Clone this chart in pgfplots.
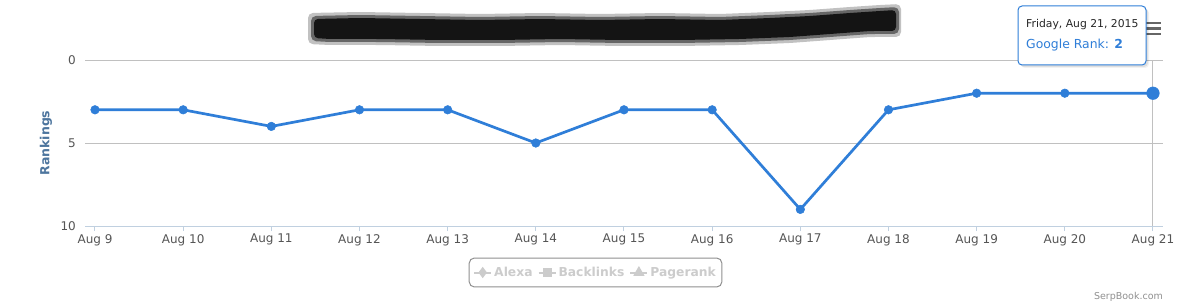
\documentclass[border=0pt]{standalone}
\usepackage{pgfplots}
\pgfplotsset{compat=1.18}
\usepackage{fontspec}
\setmainfont{DejaVu Sans}
\definecolor{linec}{HTML}{2F7ED8}
\definecolor{gridc}{HTML}{C0C0C0}
\definecolor{axisc}{HTML}{C0D0E0}
\definecolor{labc}{HTML}{555555}
\definecolor{menuc}{HTML}{666666}
\definecolor{titc}{HTML}{4D759E}
\definecolor{legc}{HTML}{CCCCCC}
\definecolor{legb}{HTML}{909090}
\begin{document}
\begin{tikzpicture}
\useasboundingbox (0,0) rectangle (1192pt,303pt);
\fill[white] (0,0) rectangle (1192pt,303pt);
\begin{scope}[x=1pt,y=-1pt,shift={(0pt,303pt)}]
  % obscured title
  \fill[black!30,opacity=0.8,rounded corners=5pt] (308,13) -- (360,12) -- (420,13) -- (480,14) -- (540,13) -- (600,14) -- (660,13) -- (720,14) -- (770,12) -- (810,10) -- (850,7) -- (880,5) -- (901,4)
     -- (901,37) -- (870,37) -- (830,40) -- (790,43) -- (740,45) -- (680,46) -- (620,46) -- (560,45) -- (500,46) -- (440,46) -- (380,45) -- (330,45) -- (308,44) -- cycle;
  \fill[black!60,rounded corners=5pt] (311,16) -- (360,15) -- (420,16) -- (480,17) -- (540,16) -- (600,17) -- (660,16) -- (720,17) -- (770,15) -- (810,13) -- (850,10) -- (880,8) -- (899,7)
     -- (899,34) -- (870,34) -- (830,37) -- (790,40) -- (740,42) -- (680,43) -- (620,43) -- (560,42) -- (500,43) -- (440,43) -- (380,42) -- (330,42) -- (311,41) -- cycle;
  \fill[black!92,rounded corners=4pt] (314,19) -- (360,18) -- (420,19) -- (480,20) -- (540,19) -- (600,20) -- (660,19) -- (720,20) -- (770,18) -- (810,16) -- (850,13) -- (880,11) -- (896,10)
     -- (896,31) -- (870,31) -- (830,34) -- (790,37) -- (740,39) -- (680,40) -- (620,40) -- (560,39) -- (500,40) -- (440,40) -- (380,39) -- (330,39) -- (314,38) -- cycle;
  % menu icon
  \draw[menuc,line width=2.5pt] (1146,23) -- (1161,23) (1146,28.5) -- (1161,28.5) (1146,34) -- (1161,34);
  % y label
  \node[rotate=90,inner sep=0pt,font=\bfseries\fontsize{12.5}{14}\selectfont,text=titc] at (46,143) {Rankings};
  % credit
  \node[anchor=east,inner sep=0pt,font=\fontsize{9.5}{11}\selectfont,text=legb] at (1163,297) {SerpBook.com};
\end{scope}
\begin{axis}[
  at={(85pt,77pt)}, anchor=south west, scale only axis,
  width=1078pt, height=166pt,
  xmin=-0.1134, xmax=12.1134, ymin=0, ymax=10, y dir=reverse,
  xtick={0,...,12},
  xticklabels={Aug 9,Aug 10,Aug 11,Aug 12,Aug 13,Aug 14,Aug 15,Aug 16,Aug 17,Aug 18,Aug 19,Aug 20,Aug 21},
  ytick={0,5,10},
  axis line style={draw=none},
  extra y ticks={10}, extra y tick labels={},
  extra y tick style={grid style={draw=axisc,line width=1pt}},
  xtick pos=lower, ytick pos=left,
  xtick style={draw=axisc,line width=1pt},
  ytick style={draw=none},
  tick align=outside, major tick length=5pt,
  ymajorgrids, grid style={draw=gridc,line width=1pt},
  ticklabel style={font=\fontsize{12}{14}\selectfont,text=labc},
  /pgf/number format/assume math mode=true,
  xticklabel style={inner sep=0pt,yshift=-3pt},
  yticklabel style={inner sep=0pt,xshift=-4pt},
  clip=false,
  legend columns=3,
  legend image code/.code={\draw[mark repeat=2,mark phase=2,#1] plot coordinates {(0pt,0pt)(8.5pt,0pt)(17pt,0pt)};},
  legend style={at={(0.4736,-0.2801)},anchor=center,draw=legb,rounded corners=5pt,line width=1pt,
    font=\bfseries\fontsize{12.3}{14}\selectfont,text=legc,inner xsep=4pt,inner ysep=7pt,
    /tikz/every even column/.append style={column sep=3pt}},
]
\addlegendimage{legc,line width=2pt,mark=diamond*,mark size=4pt}
\addlegendentry{Alexa}
\addlegendimage{legc,line width=2pt,mark=square*,mark size=3.5pt}
\addlegendentry{Backlinks}
\addlegendimage{legc,line width=2pt,mark=triangle*,mark size=4.5pt}
\addlegendentry{Pagerank}
\draw[gridc,line width=1pt] (axis cs:12,0) -- (axis cs:12,10);
\addplot[forget plot,color=linec,line width=2.7pt,mark=*,mark size=4.3pt,mark options={solid,fill=linec,draw=linec,line width=0.5pt}]
  coordinates {(0,3)(1,3)(2,4)(3,3)(4,3)(5,5)(6,3)(7,3)(8,9)(9,3)(10,2)(11,2)(12,2)};
\addplot[forget plot,only marks,mark=*,mark size=6.3pt,mark options={solid,fill=linec,draw=linec,line width=0.5pt}]
  coordinates {(12,2)};
\end{axis}
\begin{scope}[x=1pt,y=-1pt,shift={(0pt,303pt)}]
  % tooltip
  \fill[black,opacity=0.05,rounded corners=4pt] (1021,9) rectangle (1149,68);
  \fill[black,opacity=0.08,rounded corners=4pt] (1020,8) rectangle (1148,67);
  \draw[linec,fill=white,line width=1pt,rounded corners=4pt] (1018,6) rectangle (1146,65);
  \node[anchor=west,inner sep=0pt,font=\fontsize{10.8}{12}\selectfont,text=black!85] at (1026,25) {Friday, Aug 21, 2015};
  \node[anchor=west,inner sep=0pt,font=\fontsize{12.4}{14}\selectfont,text=linec] at (1026,45) {Google Rank: \textbf{2}};
\end{scope}
\end{tikzpicture}
\end{document}
